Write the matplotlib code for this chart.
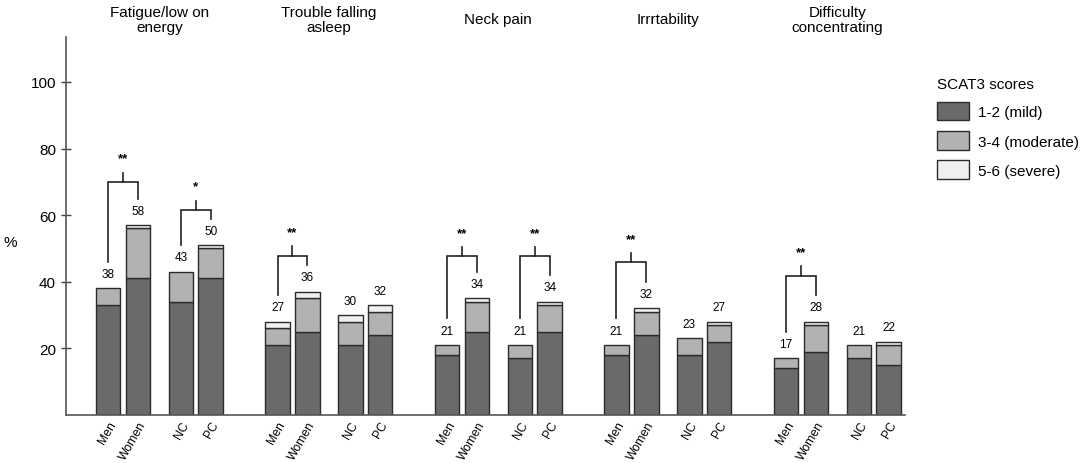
import matplotlib
matplotlib.use("Agg")
import matplotlib.pyplot as plt
import matplotlib.transforms as mtransforms
from matplotlib.patches import Patch

plt.rcParams['font.family'] = ['Liberation Sans', 'DejaVu Sans']

symptoms = ["Fatigue/low on\nenergy", "Trouble falling\nasleep", "Neck pain",
            "Irrrtability", "Difficulty\nconcentrating"]
groups = ["Men", "Women", "NC", "PC"]
mild = [[33, 41, 34, 41], [21, 25, 21, 24], [18, 25, 17, 25], [18, 24, 18, 22], [14, 19, 17, 15]]
moderate = [[5, 15, 9, 9], [5, 10, 7, 7], [3, 9, 4, 8], [3, 7, 5, 5], [3, 8, 4, 6]]
severe = [[0, 1, 0, 1], [2, 2, 2, 2], [0, 1, 0, 1], [0, 1, 0, 1], [0, 1, 0, 1]]
value_labels = [[38, 58, 43, 50], [27, 36, 30, 32], [21, 34, 21, 34], [21, 32, 23, 27], [17, 28, 21, 22]]
# significance: (symptom index, first bar index, second bar index, stars, bracket level)
significance = [(0, 0, 1, "**", 70), (0, 2, 3, "*", 61.6), (1, 0, 1, "**", 47.8),
                (2, 0, 1, "**", 47.6), (2, 2, 3, "**", 47.6), (3, 0, 1, "**", 45.8),
                (4, 0, 1, "**", 41.8)]
legend_labels = ["1-2 (mild)", "3-4 (moderate)", "5-6 (severe)"]
legend_title = "SCAT3 scores"

colors = ["#6a6a6a", "#b2b2b2", "#efefef"]
edge = "#2b2b2b"
group_step = 5.68
offsets = [0, 1, 2.44, 3.44]
width = 0.82

fig = plt.figure(figsize=(10.84, 4.64), dpi=100)
ax = fig.add_axes([66 / 1084, 1 - 416 / 464, (905 - 66) / 1084, (416 - 38) / 464])

xs_all, xl_all = [], []
tops = []
for g in range(len(symptoms)):
    xs = [g * group_step + o for o in offsets]
    row_tops = []
    for j, x in enumerate(xs):
        m, mo, s = mild[g][j], moderate[g][j], severe[g][j]
        ax.bar(x, m, width, color=colors[0], edgecolor=edge, linewidth=1.0)
        ax.bar(x, mo, width, bottom=m, color=colors[1], edgecolor=edge, linewidth=1.0)
        if s > 0:
            ax.bar(x, s, width, bottom=m + mo, color=colors[2], edgecolor=edge, linewidth=1.0)
        top = m + mo + s
        row_tops.append(top)
        ax.text(x, top + 4.3, str(value_labels[g][j]), ha='center', va='center', fontsize=8.5)
        xs_all.append(x)
        xl_all.append(groups[j])
    tops.append((xs, row_tops))
    trans = mtransforms.blended_transform_factory(ax.transData, ax.transAxes)
    ax.text((xs[0] + xs[-1]) / 2, 1.047, symptoms[g], transform=trans, ha='center',
            va='center', fontsize=11, multialignment='center', linespacing=1.1)

for g, a, b, stars, level in significance:
    xs, row_tops = tops[g]
    x1, x2 = xs[a], xs[b]
    ax.plot([x1, x1, x2, x2], [row_tops[a] + 8, level, level, row_tops[b] + 8],
            color="#222222", lw=1.2, solid_joinstyle='miter')
    xm = (x1 + x2) / 2
    ax.plot([xm, xm], [level, level + 2.8], color="#222222", lw=1.2)
    ax.text(xm, level + 7.0, stars, ha='center', va='center', fontsize=9.5, fontweight='bold')

ax.set_xlim(-1.41, 4 * group_step + 3.44 + 0.55)
ax.set_ylim(0, 113.5)
ax.set_yticks([20, 40, 60, 80, 100])
ax.tick_params(axis='y', direction='inout', length=6.5, width=1.0, labelsize=11, colors='#444444',
               labelcolor='black', pad=4)
ax.set_xticks(xs_all)
ax.set_xticklabels(xl_all, rotation=60, ha='right', va='top', rotation_mode='anchor', fontsize=8.8)
ax.tick_params(axis='x', length=0, pad=3)
for side in ['top', 'right']:
    ax.spines[side].set_visible(False)
for side in ['left', 'bottom']:
    ax.spines[side].set_color('#555555')
    ax.spines[side].set_linewidth(1.2)

fig.text(10 / 1084, 1 - 243 / 464, "%", ha='center', va='center', fontsize=11)

handles = [Patch(facecolor=c, edgecolor=edge, linewidth=1.0) for c in colors]
leg = fig.legend(handles, legend_labels, title=legend_title, loc='upper left',
                 bbox_to_anchor=(931 / 1084, 1 - 72 / 464), frameon=False, fontsize=11,
                 title_fontsize=11, handlelength=2.1, handleheight=1.5, handletextpad=0.55,
                 labelspacing=0.7, alignment='left', borderaxespad=0)

fig.savefig("out.png", dpi=100)
